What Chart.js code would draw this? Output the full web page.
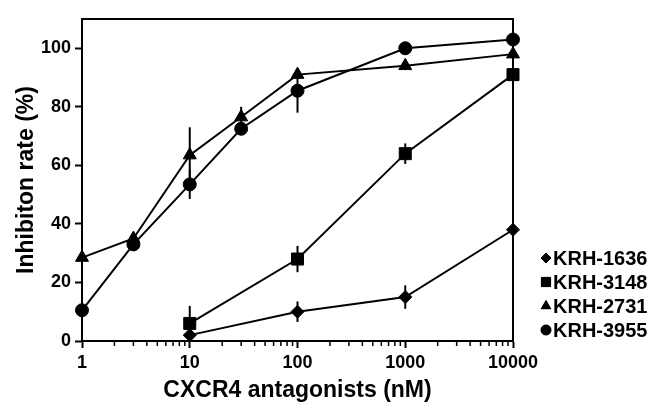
<!DOCTYPE html>
<html><head><meta charset="utf-8">
<script src="https://cdn.jsdelivr.net/npm/chart.js@4/dist/chart.umd.min.js"></script>
<style>html,body{margin:0;padding:0;background:#fff}#wrap{width:653px;height:404px}</style>
</head><body><div id="wrap"><canvas id="c" width="653" height="404"></canvas></div>
<script>
// ---- data ----
const seriesLabels = ['KRH-1636', 'KRH-3148', 'KRH-2731', 'KRH-3955'];
const pointStyles = ['rectRot', 'rect', 'triangle', 'circle'];

const conc1636 = [10, 100, 1000, 10000];
const val1636  = [2, 10, 15, 38];
const err1636  = [1, 3.5, 4, 0];

const conc3148 = [10, 100, 1000, 10000];
const val3148  = [6, 28, 64, 91];
const err3148  = [6, 4.5, 3.5, 0];

const conc2731 = [1, 3, 10, 30, 100, 1000, 10000];
const val2731  = [28.5, 35, 63.5, 76.5, 91, 94, 98];
const err2731  = [0, 0, 9.5, 3.5, 0, 0, 0];

const conc3955 = [1, 3, 10, 30, 100, 1000, 10000];
const val3955  = [10.5, 33, 53.5, 72.5, 85.5, 100, 103];
const err3955  = [0, 0, 5, 0, 7.5, 0, 0];

const xTickValues = [1, 10, 100, 1000, 10000];
const yTickValues = [0, 20, 40, 60, 80, 100];
const xTitle = 'CXCR4 antagonists (nM)';
const yTitle = 'Inhibiton rate (%)';

const concs = [conc1636, conc3148, conc2731, conc3955];
const vals = [val1636, val3148, val2731, val3955];
const errs = [err1636, err3148, err2731, err3955];
const radii = [6.5, 8.5, 7.5, 6.5];

const FONT = '"Liberation Sans", Arial, sans-serif';

const datasets = seriesLabels.map((lab, i) => ({
  label: lab,
  data: concs[i].map((x, j) => ({x: x, y: vals[i][j]})),
  borderColor: '#000',
  backgroundColor: '#000',
  borderWidth: 2,
  pointStyle: pointStyles[i],
  pointRadius: radii[i],
  pointBackgroundColor: '#000',
  pointBorderColor: '#000',
  pointBorderWidth: 1,
  tension: 0,
  fill: false,
  clip: false
}));

const errorBars = {
  id: 'errorBars',
  beforeDatasetsDraw(chart) {
    const ctx = chart.ctx, xs = chart.scales.x, ys = chart.scales.y;
    ctx.save();
    ctx.strokeStyle = '#000';
    ctx.lineWidth = 2;
    concs.forEach((cs, i) => {
      cs.forEach((c, j) => {
        const e = errs[i][j];
        if (!e) return;
        const x = xs.getPixelForValue(c);
        ctx.beginPath();
        ctx.moveTo(x, ys.getPixelForValue(vals[i][j] + e));
        ctx.lineTo(x, ys.getPixelForValue(vals[i][j] - e));
        ctx.stroke();
      });
    });
    ctx.restore();
  }
};

const frameAndMinor = {
  id: 'frameAndMinor',
  beforeDatasetsDraw(chart) {
    const ctx = chart.ctx, a = chart.chartArea, xs = chart.scales.x;
    ctx.save();
    ctx.strokeStyle = '#000';
    ctx.lineWidth = 2;
    ctx.strokeRect(a.left, a.top, a.right - a.left, a.bottom - a.top);
    ctx.lineWidth = 1.5;
    for (let d = 1; d < 10000; d *= 10) {
      for (let k = 2; k <= 9; k++) {
        const x = xs.getPixelForValue(d * k);
        ctx.beginPath();
        ctx.moveTo(x, a.bottom);
        ctx.lineTo(x, a.bottom + 5);
        ctx.stroke();
      }
    }
    ctx.restore();
  },
  afterDraw(chart) {
    const ctx = chart.ctx, a = chart.chartArea;
    ctx.save();
    ctx.fillStyle = '#000';
    ctx.strokeStyle = '#000';
    ctx.font = 'bold 20px ' + FONT;
    ctx.textAlign = 'left';
    ctx.textBaseline = 'middle';
    seriesLabels.forEach((lab, i) => {
      const y = a.bottom - 83 + 24 * i;
      const x = a.right + 33;
      const r = pointStyles[i] === 'rect' ? 6.5 : (pointStyles[i] === 'triangle' ? 5.5 : 5);
      Chart.helpers.drawPoint(ctx, {pointStyle: pointStyles[i], radius: r, rotation: 0, borderWidth: 1}, x, y);
      ctx.fill();
      ctx.fillText(lab, x + 7, y + 1);
    });
    ctx.restore();
  }
};

new Chart(document.getElementById('c'), {
  type: 'line',
  data: {datasets},
  plugins: [errorBars, frameAndMinor],
  options: {
    responsive: false,
    animation: false,
    devicePixelRatio: 1,
    layout: {padding: {top: 19, right: 140, left: 0, bottom: 0}},
    plugins: {legend: {display: false}, tooltip: {enabled: false}},
    scales: {
      x: {
        type: 'logarithmic',
        min: 1, max: 10000,
        afterBuildTicks: s => { s.ticks = xTickValues.map(v => ({value: v, major: true})); },
        afterFit: s => { s.height = 63; },
        ticks: {
          callback: v => String(v),
          color: '#000',
          font: {family: FONT, size: 18, weight: 'bold'},
          maxRotation: 0, autoSkip: false, padding: 4
        },
        grid: {drawOnChartArea: false, tickLength: 7, tickColor: '#000', tickWidth: 2},
        border: {color: '#000', width: 2},
        title: {display: true, text: xTitle, color: '#000',
          font: {family: FONT, size: 23, weight: 'bold'}, padding: {top: 3, bottom: 0}}
      },
      y: {
        type: 'linear',
        min: 0, max: 110,
        afterBuildTicks: s => { s.ticks = yTickValues.map(v => ({value: v})); },
        afterFit: s => { s.width = 82; },
        ticks: {
          color: '#000',
          font: {family: FONT, size: 18, weight: 'bold'},
          padding: 4
        },
        grid: {drawOnChartArea: false, tickLength: 7, tickColor: '#000', tickWidth: 2},
        border: {color: '#000', width: 2},
        title: {display: true, text: yTitle, color: '#000',
          font: {family: FONT, size: 23, weight: 'bold'}, padding: {top: 13, bottom: 0}}
      }
    }
  }
});
</script>
</body></html>
